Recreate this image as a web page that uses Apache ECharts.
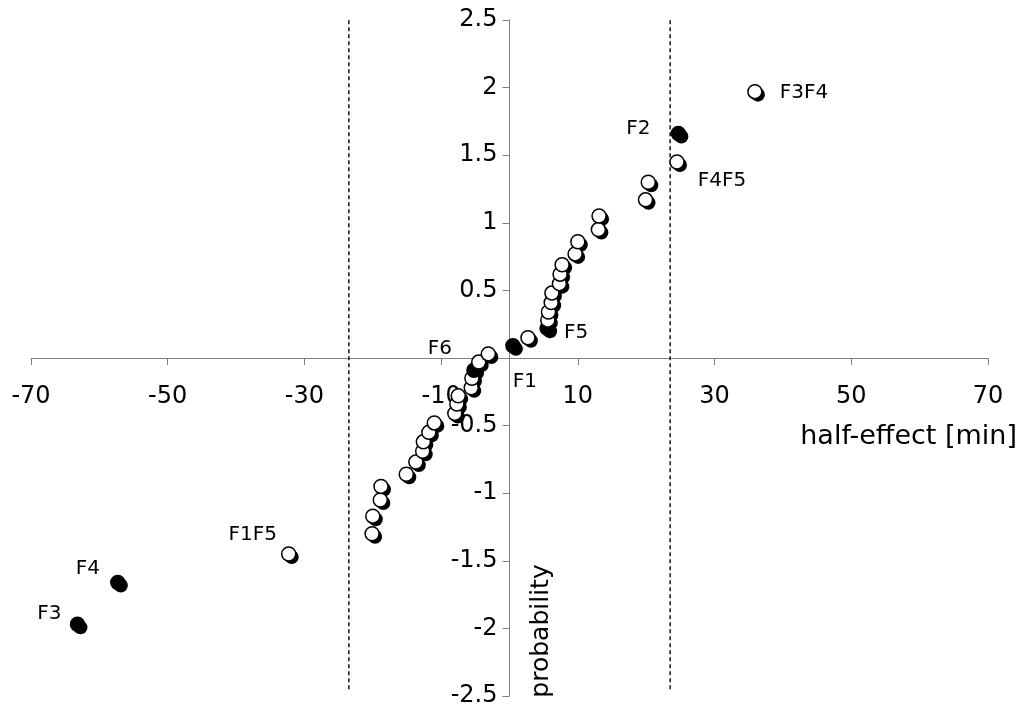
<!DOCTYPE html>
<html>
<head>
<meta charset="utf-8">
<script src="https://cdn.jsdelivr.net/npm/echarts@6/dist/echarts.min.js"></script>
<style>
html,body{margin:0;padding:0;background:#fff;}
#chart{width:1019px;height:711px;}
</style>
</head>
<body>
<div id="chart"></div>
<script>
// half-effects (min), sorted ascending, and their normal probability scores
const halfEffect = [-63.2, -57.3, -32.3, -20.1, -20.0, -18.9, -18.8, -15.1, -13.7, -12.7,
  -12.6, -11.8, -11.0, -8.0, -7.7, -7.5, -5.6, -5.5, -5.2, -4.5,
  -3.1, 0.5, 2.7, 5.5, 5.6, 5.7, 6.1, 6.2, 7.3, 7.4,
  7.7, 9.6, 10.0, 13.0, 13.1, 19.9, 20.3, 24.5, 24.7, 35.9];
const probability = [-1.97, -1.66, -1.45, -1.30, -1.17, -1.05, -0.95, -0.86, -0.77, -0.69,
  -0.62, -0.55, -0.48, -0.41, -0.34, -0.28, -0.22, -0.15, -0.09, -0.03,
  0.03, 0.09, 0.15, 0.22, 0.28, 0.34, 0.41, 0.48, 0.55, 0.62,
  0.69, 0.77, 0.86, 0.95, 1.05, 1.17, 1.30, 1.45, 1.66, 1.97];
const effectLabels = ['F3', 'F4', 'F1F5', '', '', '', '', '', '', '',
  '', '', '', '', '', '', '', '', 'F6', '',
  '', 'F1', '', 'F5', '', '', '', '', '', '',
  '', '', '', '', '', '', '', 'F4F5', 'F2', 'F3F4'];
const mainEffects = ['F1', 'F2', 'F3', 'F4', 'F5', 'F6'];
const xTicks = [-70, -50, -30, -10, 10, 30, 50, 70];
const marginOfError = [-23.5, 23.5];

// label placement (style only)
const labelOffset = {
  'F3F4': [49, 1], 'F2': [-40, -5], 'F4F5': [45, 19], 'F5': [29, 5],
  'F1': [12, 36], 'F6': [-34, -21], 'F1F5': [-36, -19], 'F4': [-30, -14], 'F3': [-28, -11]
};

const FONT = 'DejaVu Sans';
const GRID = { left: 31, right: 31, top: 20, bottom: 15 };
const W = 1019, H = 711;
const plotW = W - GRID.left - GRID.right;
const plotH = H - GRID.top - GRID.bottom;

const shadowData = halfEffect.map((x, i) => [x, probability[i]]);
const pointData = halfEffect.map((x, i) => {
  const name = effectLabels[i];
  const isMain = mainEffects.indexOf(name) >= 0;
  const item = {
    value: [x, probability[i]],
    name: name,
    itemStyle: { color: isMain ? '#000' : '#fff', opacity: 1 }
  };
  if (name) {
    item.label = {
      show: true,
      formatter: name,
      position: 'inside',
      offset: labelOffset[name] || [20, 0],
      color: '#000',
      fontSize: 20,
      fontFamily: FONT
    };
  }
  return item;
});

const dashSeries = marginOfError.map(v => ({
  type: 'line',
  data: [[v, -2.45], [v, 2.52]],
  symbol: 'none',
  silent: true,
  z: 1,
  lineStyle: { color: '#111', width: 1.5, type: [4, 3] }
}));

const chart = echarts.init(document.getElementById('chart'), null, { renderer: 'canvas' });
chart.setOption({
  animation: false,
  backgroundColor: '#fff',
  textStyle: { fontFamily: FONT },
  grid: { left: GRID.left, right: GRID.right, top: GRID.top, bottom: GRID.bottom,
          containLabel: false, outerBoundsMode: 'none' },
  xAxis: {
    type: 'value', min: -70, max: 70, position: 'bottom',
    offset: -plotH / 2,
    axisLine: { onZero: false, lineStyle: { color: '#808080', width: 1 } },
    axisTick: { show: true, length: 7, customValues: xTicks, lineStyle: { color: '#808080' } },
    axisLabel: { customValues: xTicks, fontSize: 24, color: '#000', margin: 27, fontFamily: FONT },
    splitLine: { show: false }
  },
  yAxis: {
    type: 'value', min: -2.5, max: 2.5, interval: 0.5, position: 'left',
    offset: -plotW / 2,
    axisLine: { show: true, onZero: false, lineStyle: { color: '#808080', width: 1 } },
    axisTick: { show: true, length: 7, lineStyle: { color: '#808080' } },
    axisLabel: {
      fontSize: 24, color: '#000', margin: 12, fontFamily: FONT,
      formatter: v => (v === 0 ? '' : String(v))
    },
    splitLine: { show: false }
  },
  graphic: [
    { type: 'text', right: 2, top: 423, style: { text: 'half-effect [min]', font: '27px "' + FONT + '"', fill: '#000' } },
    { type: 'text', x: 541, y: 631, rotation: Math.PI / 2,
      style: { text: 'probability', font: '25px "' + FONT + '"', fill: '#000', align: 'center', verticalAlign: 'middle' } }
  ],
  series: dashSeries.concat([{
    type: 'scatter',
    symbol: 'circle',
    symbolSize: 14,
    symbolOffset: [3, 3],
    z: 2,
    silent: true,
    data: shadowData,
    itemStyle: { color: '#000', borderWidth: 0, opacity: 1 }
  }, {
    type: 'scatter',
    symbol: 'circle',
    symbolSize: 14,
    z: 3,
    data: pointData,
    itemStyle: { borderColor: '#000', borderWidth: 1.5, opacity: 1 },
    emphasis: { disabled: true }
  }])
});
</script>
</body>
</html>
